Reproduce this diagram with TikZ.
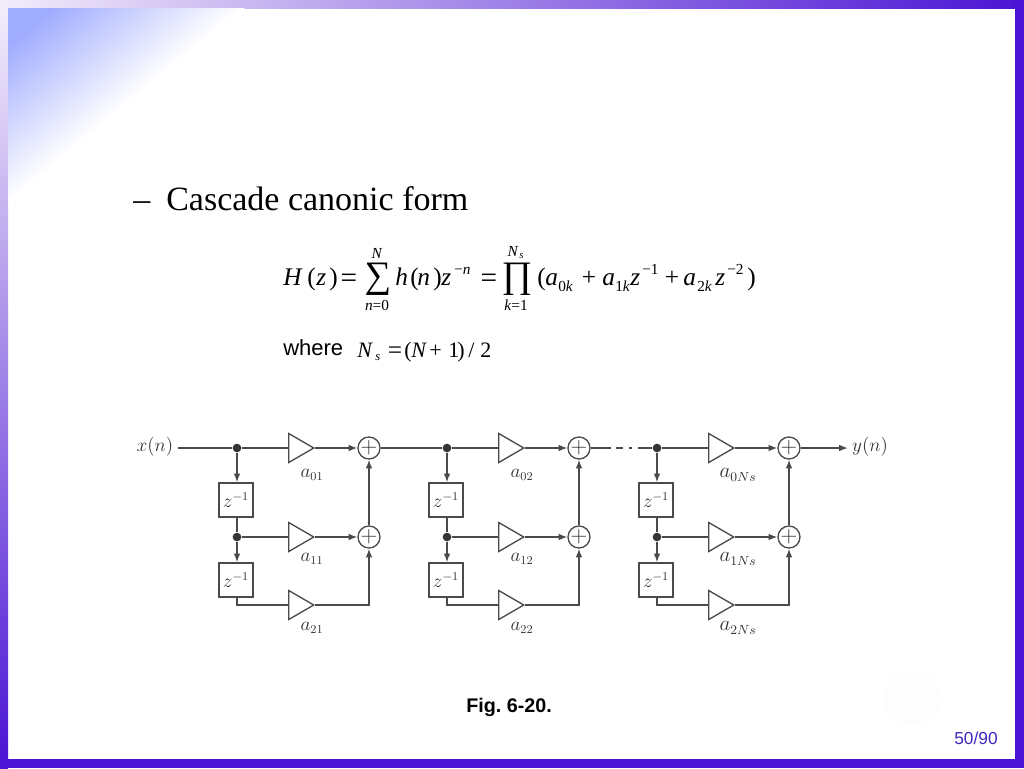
\documentclass[tikz,border=0pt]{standalone}
\usepackage[no-math]{fontspec}
\usepackage{amsmath}
\usetikzlibrary{arrows.meta,shapes.geometric,calc}
\newfontfamily\tms{Liberation Serif}
\newfontfamily\arl{Liberation Sans}
\definecolor{frameblue}{HTML}{4A14D4}
\definecolor{framepale}{HTML}{F2ECFA}
\definecolor{cornerblue}{HTML}{A0ACFF}
\definecolor{ink}{HTML}{4A4A4A}
\definecolor{labelink}{HTML}{333333}
\definecolor{pagenum}{HTML}{4028C0}
\tikzset{
  wire/.style={draw=ink,line width=1.1pt},
  arrowwire/.style={wire,-{Latex[length=6.5pt,width=5pt]}},
  dotnode/.style={circle,fill=ink!70!black,inner sep=0pt,minimum size=6.5pt},
  delaybox/.style={draw=ink,fill=white,line width=1.2pt,minimum width=25.5pt,minimum height=25.5pt,inner sep=0pt,text=labelink,font=\fontsize{13.5}{13.5}\selectfont},
  adder/.style={circle,draw=ink,fill=white,line width=1.0pt,minimum size=15pt,inner sep=0pt,text=labelink,font=\fontsize{16}{16}\selectfont},
  gain/.style={isosceles triangle,isosceles triangle apex angle=60,isosceles triangle stretches,draw=ink,fill=white,line width=1.0pt,minimum width=21.8pt,minimum height=18.8pt,inner sep=0pt,anchor=lower side},
  gainlabel/.style={text=labelink,font=\fontsize{13.5}{13.5}\selectfont,inner sep=0pt},
  sig/.style={text=labelink,font=\fontsize{13.5}{13.5}\selectfont,inner sep=3pt},
  ft/.style={anchor=base west,inner sep=0pt,font=\tms\fontsize{19}{19}\selectfont,text=black},
  ftc/.style={anchor=base,inner sep=0pt,font=\tms\fontsize{19}{19}\selectfont,text=black},
  fbig/.style={anchor=base,inner sep=0pt,font=\tms\fontsize{22}{22}\selectfont,text=black},
  fop/.style={anchor=base,inner sep=0pt,font=\tms\fontsize{28}{28}\selectfont,text=black},
  fsm/.style={anchor=base west,inner sep=0pt,font=\tms\fontsize{11.5}{11.5}\selectfont,text=black},
  fsc/.style={anchor=base,inner sep=0pt,font=\tms\fontsize{11.5}{11.5}\selectfont,text=black},
  fw/.style={anchor=base west,inner sep=0pt,font=\tms\fontsize{16.5}{16.5}\selectfont,text=black},
}
\begin{document}
\frenchspacing
\begin{tikzpicture}[x=0.75pt,y=-0.75pt]
\useasboundingbox (0,0) rectangle (1024,768);
% page and frame
\fill[white] (0,0) rectangle (1024,768);
\shade[left color=framepale,right color=frameblue] (0,0) rectangle (1024,8);
\shade[top color=framepale,bottom color=frameblue] (0,8) rectangle (8,768);
\fill[frameblue] (1015,0) rectangle (1024,768);
\fill[frameblue] (0,759) rectangle (1024,768);
% corner wash, drawn from the outer edge inwards
\foreach \t in {100,98,...,2}{
  \pgfmathsetmacro{\mixval}{min(100,1.25*(100-\t))}
  \fill[cornerblue!\mixval!white] (8,8) -- ({8+2.37*\t},8) -- (8,{8+1.97*\t}) -- cycle;
}
% faint emblem
\fill[black!0.8] (912,698) ellipse (30 and 26);
% heading
\node[anchor=base west,inner sep=0pt,font=\tms\fontsize{25.5}{25.5}\selectfont] (dash) at (133,210) {–};
\node[anchor=base west,inner sep=0pt,font=\tms\fontsize{25.5}{25.5}\selectfont] (head) at (166,210) {Cascade canonic form};
% formula
\node[ft] (fH) at (283,285) {\textit{H}};
\node[ft] (fo) at (307,285) {(};
\node[ft] (fz) at (316,285) {\textit{z}};
\node[ft] (fc) at (329,285) {)};
\node[fbig] (feq) at (349,287) {=};
\node[fop] (fsum) at (378,287) {∑};
\node[fsc] (fsumt) at (377,258) {\textit{N}};
\node[fsc] (fsumb) at (377,310) {\textit{n}=0};
\node[ft] (fh) at (395,285) {\textit{h}};
\node[ft] (fho) at (410,285) {(};
\node[ft] (fn) at (417,285) {\textit{n}};
\node[ft] (fhc) at (433,285) {)};
\node[ft] (fzb) at (441,285) {\textit{z}};
\node[fsm] (fexpn) at (454,274) {−\textit{n}};
\node[fbig] (feqb) at (489,287) {=};
\node[fop] (fprod) at (517,287) {∏};
\node[fsc] (fprodt) at (513,256) {\textit{N}};
\node[anchor=base west,inner sep=0pt,font=\tms\fontsize{8}{8}\selectfont] (fprods) at (519,258) {\textit{s}};
\node[fsc] (fprodb) at (516,310) {\textit{k}=1};
\node[ft] (fpar) at (537,285) {(};
\node[ft] (fa0) at (545,285) {\textit{a}};
\node[fsm] (fs0) at (558,291) {0\textit{k}};
\node[ftc] (fplus) at (589,285) {+};
\node[ft] (fa1) at (602,285) {\textit{a}};
\node[fsm] (fs1) at (615,291) {1\textit{k}};
\node[ft] (fz1) at (630,285) {\textit{z}};
\node[fsm] (fe1) at (642,274) {−1};
\node[ftc] (fplusb) at (672,285) {+};
\node[ft] (fa2) at (683,285) {\textit{a}};
\node[fsm] (fs2) at (697,291) {2\textit{k}};
\node[ft] (fz2) at (715,285) {\textit{z}};
\node[fsm] (fe2) at (727,274) {−2};
\node[ft] (fcl) at (747,285) {)};
% where
\node[anchor=base west,inner sep=0pt,font=\arl\fontsize{16.5}{16.5}\selectfont] (where) at (283,355) {where};
\node[fw] (wN) at (357,357) {\textit{N}};
\node[anchor=base west,inner sep=0pt,font=\tms\fontsize{9.5}{9.5}\selectfont] (ws) at (375,360) {\textit{s}};
\node[anchor=base,inner sep=0pt,font=\tms\fontsize{19}{19}\selectfont] (weq) at (395,358) {=};
\node[fw] (wr) at (404,357) {(};
\node[fw] (wm) at (411,357) {\textit{N}};
\node[fw] (wp) at (429,357) {+};
\node[fw] (wo) at (448,357) {1};
\node[fw] (wc) at (457,357) {)};
\node[fw] (wsl) at (468,357) {/};
\node[fw] (wt) at (480,357) {2};
% caption
\node[anchor=base west,inner sep=0pt,font=\arl\bfseries\fontsize{14.8}{14.8}\selectfont] (fig) at (466,712) {Fig. 6-20.};
\node[anchor=base west,inner sep=0pt,text=pagenum,font=\arl\fontsize{13}{13}\selectfont] (pg) at (954,744) {50/90};
% block diagram
\node[sig] (xin) at (155,447) {$x(n)$};
\node[sig] (yout) at (870,447) {$y(n)$};
\foreach \s/\dx/\lx/\ls/\la/\lb/\lc in {1/0/312/1/a_{01}/a_{11}/a_{21},2/210/312/1/a_{02}/a_{12}/a_{22},3/420/318/1.1/a_{0Ns}/a_{1Ns}/a_{2Ns}}{
  \begin{scope}[shift={(\dx,0)}]
  \node[dotnode] (d\s a) at (237,448) {};
  \node[dotnode] (d\s b) at (237,537) {};
  \node[delaybox] (z\s a) at (236,500) {$z^{-1}$};
  \node[delaybox] (z\s b) at (236,580) {$z^{-1}$};
  \node[gain] (g\s a) at (288,448) {};
  \node[gain] (g\s b) at (288,537) {};
  \node[gain] (g\s c) at (288,605) {};
  \node[adder] (p\s a) at (369,448) {$+$};
  \node[adder] (p\s b) at (369,537) {$+$};
  \node[gainlabel] (l\s a) at (\lx,475) {\scalebox{\ls}{$\la$}};
  \node[gainlabel] (l\s b) at (\lx,559) {\scalebox{\ls}{$\lb$}};
  \node[gainlabel] (l\s c) at (\lx,628) {\scalebox{\ls}{$\lc$}};
  \end{scope}
  \draw[wire] (d\s a) -- (g\s a.lower side);
  \draw[wire] (d\s b) -- (g\s b.lower side);
  \draw[arrowwire] (g\s a.apex) -- (p\s a);
  \draw[arrowwire] (g\s b.apex) -- (p\s b);
  \draw[arrowwire] (d\s a) -- (d\s a |- z\s a.north);
  \draw[wire] (d\s b |- z\s a.south) -- (d\s b);
  \draw[arrowwire] (d\s b) -- (d\s b |- z\s b.north);
  \draw[wire] (d\s b |- z\s b.south) |- (g\s c.lower side);
  \draw[arrowwire] (g\s c.apex) -| (p\s b.south);
  \draw[arrowwire] (p\s b.north) -- (p\s a.south);
}
\coordinate (brkA) at (611,448);
\coordinate (brkB) at (616,448);
\coordinate (brkC) at (623,448);
\coordinate (brkD) at (629,448);
\coordinate (brkE) at (632,448);
\coordinate (brkF) at (638,448);
\draw[wire] (xin.east |- d1a) -- (d1a);
\draw[wire] (p1a.east) -- (d2a);
\draw[wire] (p2a.east) -- (brkA);
\draw[wire] (brkB) -- (brkC);
\draw[wire] (brkD) -- (brkE);
\draw[wire] (brkF) -- (d3a);
\draw[arrowwire] (p3a.east) -- (yout.west |- p3a);
\end{tikzpicture}
\end{document}
